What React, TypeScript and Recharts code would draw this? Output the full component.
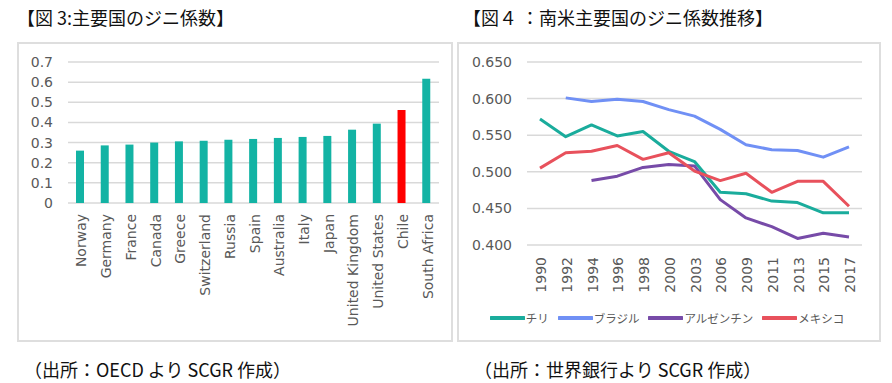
import { BarChart, Bar, Cell, LineChart, Line, XAxis, YAxis, CartesianGrid, Legend } from "recharts"

// 図3: OECD Gini coefficients
const countries = [
  "Norway", "Germany", "France", "Canada", "Greece", "Switzerland", "Russia", "Spain",
  "Australia", "Italy", "Japan", "United Kingdom", "United States", "Chile", "South Africa",
]
const giniValues = [0.26, 0.286, 0.29, 0.3, 0.306, 0.309, 0.314, 0.318, 0.323, 0.328, 0.333, 0.364, 0.394, 0.462, 0.617]
const barTicks = [0, 0.1, 0.2, 0.3, 0.4, 0.5, 0.6, 0.7]

// 図4: South America
const years = ["1990", "1992", "1994", "1996", "1998", "2000", "2003", "2006", "2009", "2011", "2013", "2015", "2017"]
const chile = [0.572, 0.548, 0.564, 0.549, 0.555, 0.528, 0.514, 0.472, 0.47, 0.46, 0.458, 0.444, 0.444]
const brazil = [null, 0.601, 0.596, 0.599, 0.596, 0.585, 0.576, 0.558, 0.537, 0.53, 0.529, 0.52, 0.534]
const argentina = [null, null, 0.488, 0.494, 0.506, 0.51, 0.508, 0.462, 0.437, 0.425, 0.409, 0.416, 0.411]
const mexico = [0.505, 0.526, 0.528, 0.536, 0.517, 0.526, 0.501, 0.488, 0.498, 0.472, 0.487, 0.487, 0.453]
const lineTicks = [0.4, 0.45, 0.5, 0.55, 0.6, 0.65]

const seriesKeys = ["chile", "brazil", "argentina", "mexico"]
const seriesNames = ["チリ", "ブラジル", "アルゼンチン", "メキシコ"]
const seriesColors = ["#1aac9c", "#7090f5", "#774ba8", "#e8515c"]

const TEAL = "#13b3a4"
const GRID = "#d9d9d9"
const TEXT = "#595959"
const FONT = "'DejaVu Sans', sans-serif"
const JP = "'Noto Sans CJK JP', sans-serif"

const barData = countries.map((c, i) => ({ country: c, gini: giniValues[i] }))
const lineData = years.map((y, i) => ({
  year: y,
  chile: chile[i],
  brazil: brazil[i],
  argentina: argentina[i],
  mexico: mexico[i],
}))

function RotatedTick(props: any) {
  const { x, y, payload, dx = 0, dy = 0 } = props
  return (
    <text
      x={0}
      y={0}
      transform={`translate(${x + dx},${y + dy}) rotate(-90)`}
      textAnchor="end"
      dominantBaseline="central"
      fill={TEXT}
      fontSize={14}
      fontFamily={FONT}
    >
      {payload.value}
    </text>
  )
}

// keep series order (recharts sorts legend items by default)
function LegendContent() {
  return (
    <div style={{ display: "flex", justifyContent: "center", alignItems: "center", height: 20, paddingLeft: 4 }}>
      {seriesNames.map((name, i) => (
        <div key={name} style={{ display: "flex", alignItems: "center", marginRight: 9 }}>
          <svg width={35} height={6}>
            <line x1={1} y1={3} x2={34} y2={3} stroke={seriesColors[i]} strokeWidth={4} strokeLinecap="round" />
          </svg>
          <span style={{ fontFamily: JP, fontSize: 11.5, color: TEXT, marginLeft: 1 }}>{name}</span>
        </div>
      ))}
    </div>
  )
}

const boxStyle: any = {
  position: "absolute",
  border: "2px solid #dedede",
  boxSizing: "border-box",
}

const textStyle: any = {
  position: "absolute",
  color: "#111",
  whiteSpace: "nowrap",
  lineHeight: "20px",
}

export default function App() {
  return (
    <div style={{ position: "absolute", left: 0, top: 0, width: 892, height: 383, background: "#fff", fontFamily: JP, overflow: "hidden" }}>
      <div style={{ ...textStyle, left: 17, top: 7, fontSize: 18 }}>【図 3:主要国のジニ係数】</div>
      <div style={{ ...textStyle, left: 463, top: 7, fontSize: 18 }}>【図４ ：南米主要国のジニ係数推移】</div>

      <div style={{ ...boxStyle, left: 17, top: 42, width: 436, height: 300 }} />
      <div style={{ ...boxStyle, left: 457, top: 42, width: 424, height: 300 }} />

      <div style={{ position: "absolute", left: 17, top: 43 }}>
        <BarChart width={436} height={299} data={barData} margin={{ top: 19, right: 14, left: 0, bottom: 0 }}>
          <CartesianGrid vertical={false} stroke={GRID} strokeWidth={1.5} />
          <XAxis
            dataKey="country"
            interval={0}
            height={139}
            axisLine={false}
            tickLine={false}
            tick={<RotatedTick dx={1} dy={3} />}
          />
          <YAxis
            width={51}
            domain={[0, 0.7]}
            ticks={barTicks}
            interval={0}
            axisLine={false}
            tickLine={false}
            tickMargin={9}
            tick={{ fill: TEXT, fontSize: 14, fontFamily: FONT }}
          />
          <Bar dataKey="gini" barSize={8} isAnimationActive={false}>
            {barData.map((d) => (
              <Cell key={d.country} fill={d.country === "Chile" ? "#ff0000" : TEAL} />
            ))}
          </Bar>
        </BarChart>
      </div>

      <div style={{ position: "absolute", left: 458, top: 43 }}>
        <LineChart width={423} height={299} data={lineData} margin={{ top: 19, right: 19, left: 0, bottom: 0 }}>
          <CartesianGrid vertical={false} stroke={GRID} strokeWidth={1.5} />
          <XAxis
            dataKey="year"
            interval={0}
            height={97}
            padding={{ left: 13, right: 13 }}
            axisLine={false}
            tickLine={false}
            tick={<RotatedTick dx={1} dy={4} />}
          />
          <YAxis
            width={69}
            domain={[0.4, 0.65]}
            ticks={lineTicks}
            interval={0}
            axisLine={false}
            tickLine={false}
            tickMargin={9}
            tickFormatter={(v: number) => v.toFixed(3)}
            tick={{ fill: TEXT, fontSize: 14, fontFamily: FONT }}
          />
          <Legend
            verticalAlign="middle"
            layout="horizontal"
            align="center"
            wrapperStyle={{ top: 265, left: 0, width: 423 }}
            content={<LegendContent />}
          />
          {seriesKeys.map((k, i) => (
            <Line
              key={k}
              dataKey={k}
              name={seriesNames[i]}
              stroke={seriesColors[i]}
              strokeWidth={3}
              dot={false}
              strokeLinejoin="round"
              isAnimationActive={false}
            />
          ))}
        </LineChart>
      </div>

      <div style={{ ...textStyle, left: 24, top: 359, fontSize: 18 }}>（出所：OECD より SCGR 作成）</div>
      <div style={{ ...textStyle, left: 474, top: 359, fontSize: 18 }}>（出所：世界銀行より SCGR 作成）</div>
    </div>
  )
}
